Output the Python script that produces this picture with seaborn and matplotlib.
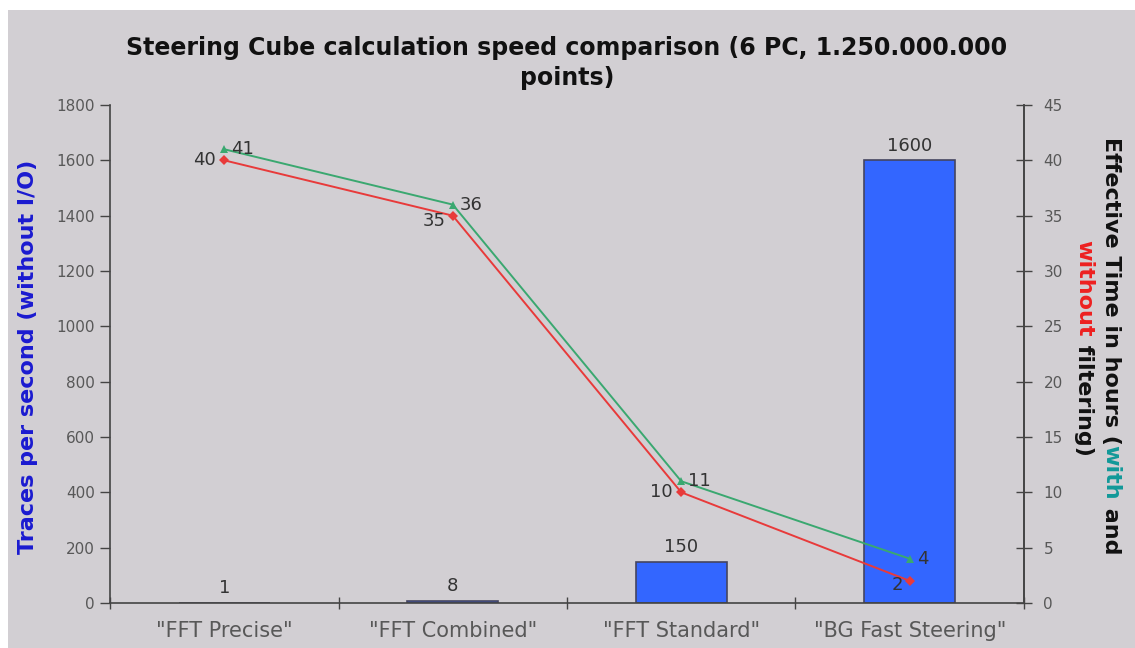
import matplotlib
matplotlib.use("Agg")
import matplotlib.pyplot as plt
from matplotlib.patches import Rectangle
import pandas as pd
import seaborn as sns

# Data
methods = ['"FFT Precise"', '"FFT Combined"', '"FFT Standard"', '"BG Fast Steering"']
traces_per_second = [1, 8, 150, 1600]
hours_with_filtering = [41, 36, 11, 4]
hours_without_filtering = [40, 35, 10, 2]
left_ticks = [0, 200, 400, 600, 800, 1000, 1200, 1400, 1600, 1800]
right_ticks = [0, 5, 10, 15, 20, 25, 30, 35, 40, 45]

BG = "#d2cfd3"
BAR = "#3366ff"
RED = "#e83a3a"
GREEN = "#3aa870"
TICK_TXT = "#585858"

sns.set_theme(style="white")
plt.rcParams["font.family"] = ["DejaVu Sans"]

W, H = 1135, 648
fig = plt.figure(figsize=(W / 100, H / 100), dpi=100)
fig.patch.set_facecolor("white")
fig.patches.append(Rectangle((8 / W, 0), 1 - 8 / W, 1 - 10 / H, transform=fig.transFigure,
                             facecolor=BG, edgecolor="none", zorder=-10))

ax = fig.add_axes([110 / W, 1 - 603 / H, (1024 - 110) / W, (603 - 105) / H])
ax.set_facecolor(BG)

df = pd.DataFrame({"method": methods, "tps": traces_per_second})
sns.barplot(data=df, x="method", y="tps", ax=ax, color=BAR, width=0.4,
            edgecolor="#454560", linewidth=1.2, saturation=1)
ax.set_ylim(0, 1800)
ax.set_xlim(-0.5, len(methods) - 0.5)
ax.set_yticks(left_ticks)
ax.set_yticklabels([str(t) for t in left_ticks], color=TICK_TXT, fontsize=11)
ax.set_xticks(range(len(methods)))
ax.set_xticklabels(methods, color=TICK_TXT, fontsize=15)
ax.tick_params(axis="x", length=0, pad=13)
ax.tick_params(axis="y", length=7, width=1, color="#444444", direction="out", pad=4, left=True)
# category separators on the x axis
ax.set_xticks([0.5, 1.5, 2.5, 3.5, -0.5], minor=True)
ax.tick_params(axis="x", which="minor", length=8, width=1, color="#444444", direction="inout", bottom=True)
ax.spines["top"].set_visible(False)
for s in ["left", "bottom", "right"]:
    ax.spines[s].set_color("#444444")
    ax.spines[s].set_linewidth(1.2)
ax.set_xlabel("")
ax.set_ylabel("")
fig.text(28 / W, 1 - 357 / H, "Traces per second (without I/O)", rotation=90,
         ha="center", va="center", color="#1a1ad0", fontsize=16, fontweight="bold")

for i, v in enumerate(traces_per_second):
    ax.annotate(str(v), (i, v), xytext=(0, 4), textcoords="offset points",
                ha="center", va="bottom", fontsize=13, color="#333333")

# Effective time lines on secondary axis
ax2 = ax.twinx()
ldf = pd.DataFrame({"method": methods, "with": hours_with_filtering,
                    "without": hours_without_filtering})
sns.lineplot(data=ldf, x="method", y="with", ax=ax2, color=GREEN, linewidth=1.4,
             marker="^", markersize=6, markeredgewidth=0, sort=False)
sns.lineplot(data=ldf, x="method", y="without", ax=ax2, color=RED, linewidth=1.4,
             marker="D", markersize=5, markeredgewidth=0, sort=False)
ax2.set_ylim(0, 45)
ax2.set_xlim(-0.5, len(methods) - 0.5)
ax2.set_yticks(right_ticks)
ax2.set_yticklabels([str(t) for t in right_ticks], color=TICK_TXT, fontsize=11)
ax2.tick_params(axis="y", length=12, width=1, color="#444444", direction="inout", pad=8, right=True)
ax2.set_ylabel("")
ax2.set_xlabel("")
for s in ["top", "left", "bottom"]:
    ax2.spines[s].set_visible(False)
ax2.spines["right"].set_color("#444444")
ax2.spines["right"].set_linewidth(1.2)

for i, v in enumerate(hours_with_filtering):
    ax2.annotate(str(v), (i, v), xytext=(5, 0), textcoords="offset points",
                 ha="left", va="center", fontsize=13, color="#333333")
red_offsets = [(-6, 0), (-5, -4), (-6, 0), (-5, -3)]
for i, v in enumerate(hours_without_filtering):
    dx, dy = red_offsets[i]
    ax2.annotate(str(v), (i, v), xytext=(dx, dy), textcoords="offset points",
                 ha="right", va="center", fontsize=13, color="#333333")

fig.text(567 / W, 1 - 48 / H, "Steering Cube calculation speed comparison (6 PC, 1.250.000.000",
         ha="center", va="center", fontsize=17, fontweight="bold", color="#111111")
fig.text(567 / W, 1 - 78 / H, "points)", ha="center", va="center",
         fontsize=17, fontweight="bold", color="#111111")

# Multi-coloured rotated label on the right
fig.canvas.draw()
renderer = fig.canvas.get_renderer()


def colored_vertical(x_px, y_center_px, parts):
    texts = []
    for s, c in parts:
        t = fig.text(x_px / W, 0.5, s, rotation=-90, ha="center", va="top",
                     fontsize=16, fontweight="bold", color=c)
        texts.append(t)
    heights = [t.get_window_extent(renderer).height for t in texts]
    total = sum(heights)
    y = (H - y_center_px) + total / 2
    for t, h in zip(texts, heights):
        t.set_y(y / H)
        y -= h


colored_vertical(1111, 346, [("Effective Time in hours (", "#111111"),
                             ("with", "#119999"), (" and", "#111111")])
colored_vertical(1084, 348, [("without", "#ee2020"), (" filtering)", "#111111")])

fig.savefig("out.png", dpi=100, facecolor=fig.get_facecolor())
